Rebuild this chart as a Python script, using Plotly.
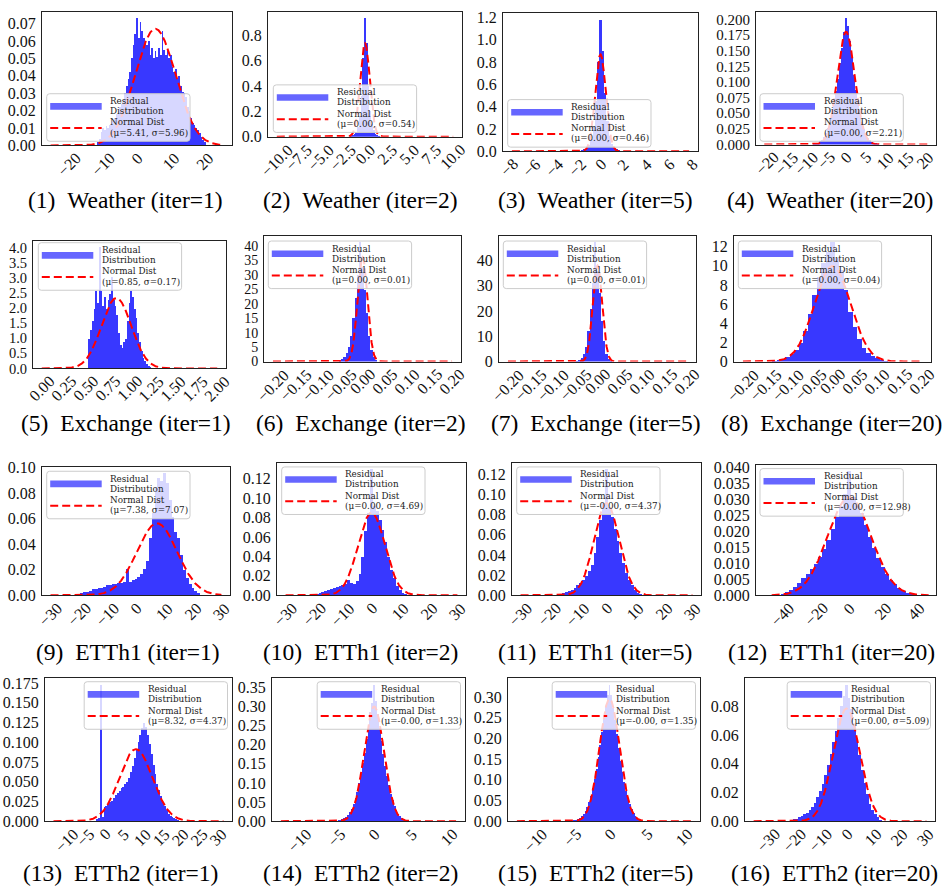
import numpy as np
import plotly.graph_objects as go

# ---------------- data ----------------
titles = ["(1)\u2002Weather (iter=1)", "(2)\u2002Weather (iter=2)", "(3)\u2002Weather (iter=5)", "(4)\u2002Weather (iter=20)",
          "(5)\u2002Exchange (iter=1)", "(6)\u2002Exchange (iter=2)", "(7)\u2002Exchange (iter=5)", "(8)\u2002Exchange (iter=20)",
          "(9)\u2002ETTh1 (iter=1)", "(10)\u2002ETTh1 (iter=2)", "(11)\u2002ETTh1 (iter=5)", "(12)\u2002ETTh1 (iter=20)",
          "(13)\u2002ETTh2 (iter=1)", "(14)\u2002ETTh2 (iter=2)", "(15)\u2002ETTh2 (iter=5)", "(16)\u2002ETTh2 (iter=20)"]

fit_mu = [5.41, 0.0, 0.0, 0.0, 0.85, 0.0, 0.0, 0.0, 7.38, 0.0, -0.001, -0.001, 8.32, -0.001, -0.001, 0.0]
fit_sigma = [5.96, 0.54, 0.46, 2.21, 0.17, 0.011, 0.0105, 0.04, 7.07, 4.69, 4.37, 12.98, 4.37, 1.33, 1.35, 5.09]

# histogram bins: left edge of first bin, bin width, densities
bin_left = [-11.75, -1.7, -1.9, -8.25, 0.53, -0.0525, -0.0475, -0.135,
            -20.5, -19.5, -17.5, -43.75, -2.25, -5.125, -5.125, -22.5]
bin_w = [0.5, 0.2, 0.2, 0.5, 0.02, 0.005, 0.005, 0.01, 1, 1, 1, 2.5, 0.5, 0.25, 0.25, 1]

h1 = [.002, .004, .008, .010, .009, .011, .010, .012, .013, .014,
      .016, .018, .020, .022, .024, .027, .030, .034, .038, .042,
      .050, .058, .064, .073, .062, .071, .066, .062, .060, .058,
      .060, .052, .056, .050, .054, .051, .056, .052, .066, .055,
      .052, .054, .050, .052, .045, .042, .044, .038, .040, .034,
      .031, .030, .028, .022, .020, .016, .013, .012, .010, .009,
      .007, .005, .003, .002]
h2 = [0.005, 0.01, 0.02, 0.04, 0.08, 0.16, 0.32, 0.62, 0.94, 0.74, 0.4, 0.2, 0.1, 0.05, 0.025, 0.012, 0.005]
h3 = [0.005, 0.01, 0.02, 0.035, 0.06, 0.11, 0.22, 0.45, 0.8, 1.18, 0.9, 0.52, 0.27, 0.14, 0.07, 0.035, 0.018, 0.009, 0.004]
h4 = [0.001, 0.002, 0.003, 0.005, 0.008, 0.012, 0.018, 0.026, 0.036, 0.05, 0.066, 0.085, 0.105, 0.13, 0.155, 0.18,
      0.202, 0.19, 0.165, 0.14, 0.112, 0.088, 0.068, 0.05, 0.036, 0.025, 0.017, 0.011, 0.007, 0.004, 0.003, 0.002, 0.001]
h5 = [1.0, 1.3, 1.6, 2.0, 2.6, 2.2, 4.05, 2.6, 2.1, 2.4, 2.0, 2.3, 2.5, 3.05, 2.3, 2.1, 1.8, 1.2, 0.8, 0.7,
      0.9, 1.0, 1.6, 2.2, 2.6, 2.4, 2.0, 1.7, 1.2, 0.9, 0.6, 0.35, 0.25, 0.15, 0.1, 0.05, 0.03]
h6 = [0.3, 0.8, 1.5, 3, 5, 9, 15, 22, 30, 41.5, 33, 25, 17, 9, 4, 1.5, 0.5]
h7 = [0.3, 0.8, 1.5, 3, 6, 12, 21, 31, 47.3, 36, 27, 16, 8, 3, 1, 0.3]
h8 = [0.05, 0.15, 0.3, 0.45, 0.8, 1.2, 2.0, 3.2, 5.0, 7.0, 8.8, 10.3, 11.5, 12.5, 10.8, 9.6, 7.5, 5.2, 3.6, 2.4,
      1.4, 0.9, 0.6, 0.35, 0.2, 0.1]
h9 = [.001, .002, .003, .003, .004, .005, .005, .006, .006, .007, .008, .008, .009, .009, .010, .010, .011,
      .021, .011, .012, .013, .015, .017, .021, .027, .045, .065, .085, .092, .090, .096, .088, .075, .062,
      .050, .045, .032, .020, .014, .009, .006, .004, .002]
h10 = [.002, .003, .004, .005, .006, .007, .008, .009, .010, .011, .012, .016, .013, .012, .015, .022,
       .040, .066, .085, .130, .092, .087, .078, .068, .055, .040, .026, .018, .010, .006, .003, .002]
h11 = [.001, .002, .003, .004, .005, .006, .008, .010, .012, .015, .019, .024, .030, .042, .058, .075,
       .092, .125, .088, .078, .066, .054, .042, .032, .022, .015, .010, .006, .003, .002, .001]
h12 = [.0003, .0006, .001, .0018, .0028, .004, .0055, .0068, .0082, .0098, .012, .0145, .0175, .021, .0245,
       .028, .032, .039, .031, .028, .026, .022, .0185, .015, .0118, .009, .0068, .005, .0036, .0024, .0015,
       .0009, .0005, .0002]
h13 = [0.003, 0.004, 0.173, 0.006, 0.018, 0.02, 0.022, 0.025, 0.026, 0.03, 0.033, 0.036, 0.038, 0.042, 0.044,
       0.047, 0.05, 0.055, 0.062, 0.07, 0.08, 0.09, 0.1, 0.11, 0.118, 0.125, 0.12, 0.11, 0.098, 0.085, 0.072,
       0.06, 0.048, 0.04, 0.032, 0.025, 0.019, 0.014, 0.01, 0.007, 0.005, 0.004, 0.003, 0.002, 0.001]
h14 = [0.002, 0.003, 0.004, 0.006, 0.008, 0.012, 0.017, 0.024, 0.033, 0.045, 0.06, 0.078, 0.1, 0.125, 0.152,
       0.18, 0.215, 0.25, 0.285, 0.31, 0.357, 0.315, 0.28, 0.245, 0.21, 0.175, 0.145, 0.118, 0.095, 0.072,
       0.055, 0.04, 0.029, 0.02, 0.014, 0.009, 0.006, 0.004, 0.002, 0.001]
h15 = [0.002, 0.003, 0.004, 0.006, 0.009, 0.013, 0.018, 0.025, 0.034, 0.046, 0.061, 0.08, 0.102, 0.127, 0.155,
       0.185, 0.215, 0.25, 0.28, 0.305, 0.33, 0.305, 0.275, 0.245, 0.21, 0.178, 0.147, 0.12, 0.096, 0.074,
       0.056, 0.041, 0.03, 0.021, 0.014, 0.009, 0.006, 0.004, 0.002, 0.001]
h16 = [.0005, .001, .0015, .002, .003, .004, .005, .006, .008, .010, .013, .017, .021, .026, .032, .039, .047,
       .055, .063, .072, .080, .087, .095, .086, .078, .068, .057, .046, .036, .027, .019, .012, .008, .005,
       .003, .001]
hists = [h1, h2, h3, h4, h5, h6, h7, h8, h9, h10, h11, h12, h13, h14, h15, h16]

# x tick labels
xt_w = [-0.2, -0.15, -0.1, -0.05, 0, 0.05, 0.1, 0.15, 0.2]
xticks = [[-20, -10, 0, 10, 20], [-10, -7.5, -5, -2.5, 0, 2.5, 5, 7.5, 10], [-8, -6, -4, -2, 0, 2, 4, 6, 8],
          [-20, -15, -10, -5, 0, 5, 10, 15, 20], [0, 0.25, 0.5, 0.75, 1.0, 1.25, 1.5, 1.75, 2.0],
          xt_w, xt_w, xt_w,
          [-30, -20, -10, 0, 10, 20, 30], [-30, -20, -10, 0, 10, 20, 30], [-30, -20, -10, 0, 10, 20, 30],
          [-40, -20, 0, 20, 40], [-10, -5, 0, 5, 10, 15, 20, 25, 30], [-10, -5, 0, 5, 10], [-10, -5, 0, 5, 10],
          [-30, -20, -10, 0, 10, 20, 30]]
xtick_dec = [0, 1, 0, 0, 2, 2, 2, 2, 0, 0, 0, 0, 0, 0, 0, 0]
ytick_step = [0.01, 0.2, 0.2, 0.025, 0.5, 5, 10, 2, 0.02, 0.02, 0.02, 0.005, 0.025, 0.05, 0.05, 0.02]
ytick_fmt = ['.2f', '.1f', '.1f', '.3f', '.1f', '.0f', '.0f', '.0f', '.2f', '.2f', '.2f', '.3f', '.3f', '.2f', '.2f', '.2f']

# x extent of axes and of the fitted curve
x_range = [[-28.05, 28.05], [-11, 11], [-8.53, 8.53], [-22.8, 22.8], [-0.1, 2.1], [-0.22, 0.22], [-0.22, 0.22],
           [-0.22, 0.22], [-33, 33], [-33, 33], [-33, 33], [-56, 52], [-15.75, 33.75], [-13.7, 12.2],
           [-13.7, 12.2], [-38.8, 33.8]]
curve_span = [[-25.5, 25.5], [-10, 10], [-7.75, 7.75], [-20.7, 20.7], [0, 2], [-0.2, 0.2], [-0.2, 0.2],
              [-0.2, 0.2], [-30, 30], [-30, 30], [-30, 30], [-46.6, 47.6], [-13.5, 31.5], [-12.5, 11],
              [-12.5, 11], [-35.5, 30.5]]

# ---------------- layout (pixels) ----------------
W, H = 942, 896
frames = [(42, 232, 5, 141), (268, 462, 5, 132), (503, 698, 6, 147), (756, 936, 5, 140),
          (33, 226, 238, 368), (264, 461, 233, 361), (499, 696, 233, 361), (734, 931, 233, 361),
          (42, 230, 468, 599), (277, 466, 464, 599), (512, 701, 464, 599), (756, 936, 466, 599),
          (45, 232, 683, 829), (272, 465, 683, 829), (508, 700, 683, 829), (745, 935, 683, 829)]
legend_box = [(46.7, 88.3), (273.3, 79.3), (507.7, 94.3), (760, 88.3),
              (38.3, 240), (268.3, 238.3), (503.3, 238.3), (738.3, 238.3),
              (46.7, 472.7), (281.7, 468.3), (516.7, 468.3), (760, 470),
              (84.2, 687), (317.2, 687), (552.2, 687), (787.2, 687)]
captions = [(125, 196), (360, 196), (595, 196), (830, 196),
            (126, 424), (361, 424), (596, 424), (831, 424),
            (128, 657), (360, 657), (595, 657), (831, 657),
            (120, 882), (360, 882), (595, 882), (834, 882)]
ytick_size = [16, 16, 16, 15, 14.5, 14, 16, 16, 16, 16, 16, 16, 16, 16, 16, 16]

BAR = 'rgba(0,0,255,0.78)'
PATCH = 'rgba(0,0,255,0.6)'
FRAME = '#222222'
TXT = '#111111'
SERIF = 'Liberation Serif'
LEG_FONT = 'DejaVu Serif'


def PX(x):
    return x / W


def PY(y):
    return 1 - y / H


def rrect(x0, y0, x1, y1, r):
    pts = [('M', x0 + r, y0), ('L', x1 - r, y0), ('Q', x1, y0, x1, y0 + r), ('L', x1, y1 - r),
           ('Q', x1, y1, x1 - r, y1), ('L', x0 + r, y1), ('Q', x0, y1, x0, y1 - r), ('L', x0, y0 + r),
           ('Q', x0, y0, x0 + r, y0)]
    s = ''
    for p in pts:
        cmd = p[0]
        coords = p[1:]
        parts = []
        for j in range(0, len(coords), 2):
            parts.append('%.5f,%.5f' % (PX(coords[j]), PY(coords[j + 1])))
        s += cmd + ' ' + ' '.join(parts) + ' '
    return s + 'Z'


def fmt_tick(v, d):
    s = f"{v:.{d}f}"
    return s.replace('-', '\u2212')


fig = go.Figure()
axes_layout = {}
shapes = []
annotations = []

for i in range(16):
    k = i + 1
    sfx = '' if k == 1 else str(k)
    xa, ya = 'x' + sfx, 'y' + sfx
    h = np.array(hists[i], dtype=float)
    w = bin_w[i]
    centers = bin_left[i] + w * (np.arange(len(h)) + 0.5)
    fig.add_trace(go.Bar(x=centers, y=h, width=w, marker=dict(color=BAR, line=dict(width=0)),
                         xaxis=xa, yaxis=ya, showlegend=False, hoverinfo='skip'))
    xs = np.linspace(curve_span[i][0], curve_span[i][1], 800)
    ys = np.exp(-0.5 * ((xs - fit_mu[i]) / fit_sigma[i]) ** 2) / (fit_sigma[i] * np.sqrt(2 * np.pi))
    fig.add_trace(go.Scatter(x=xs, y=ys, mode='lines', line=dict(color='red', width=2, dash='8px,4px'),
                             xaxis=xa, yaxis=ya, showlegend=False, hoverinfo='skip'))

    x0, x1, y0, y1 = frames[i]
    ymax = float(h.max()) * 1.05
    axes_layout['xaxis' + sfx] = dict(domain=[PX(x0), PX(x1)], range=x_range[i], anchor=ya,
                                      showticklabels=False, ticks='', showgrid=False, zeroline=False,
                                      showline=True, mirror=True, linecolor=FRAME, linewidth=1)
    axes_layout['yaxis' + sfx] = dict(domain=[PY(y1), PY(y0)], range=[0, ymax], anchor=xa,
                                      tickmode='linear', tick0=0, dtick=ytick_step[i], tickformat=ytick_fmt[i],
                                      ticks='', showgrid=False, zeroline=False, showline=True, mirror=True,
                                      linecolor=FRAME, linewidth=1, ticklabelstandoff=2,
                                      tickfont=dict(family=SERIF, size=ytick_size[i], color=TXT))

    # rotated x tick labels, centred on the tick like matplotlib
    for v in xticks[i]:
        annotations.append(dict(x=v, y=0, xref=xa, yref=ya + ' domain', text=fmt_tick(v, xtick_dec[i]),
                                textangle=-45, xanchor='center', yanchor='top', yshift=-3, showarrow=False,
                                borderpad=0, font=dict(family=SERIF, size=16, color=TXT)))

    # legend
    bx, by = legend_box[i]
    bw, bh = 143.3, 48.4
    shapes.append(dict(type='path', path=rrect(bx, by, bx + bw, by + bh, 3), xref='paper', yref='paper',
                       fillcolor='rgba(255,255,255,0.8)', line=dict(color='#cccccc', width=1), layer='above'))
    shapes.append(dict(type='rect', x0=PX(bx + 3.5), x1=PX(bx + 55), y0=PY(by + 16.2), y1=PY(by + 9.5),
                       xref='paper', yref='paper', fillcolor=PATCH, line=dict(width=0), layer='above'))
    shapes.append(dict(type='line', x0=PX(bx + 3.5), x1=PX(bx + 55), y0=PY(by + 35), y1=PY(by + 35),
                       xref='paper', yref='paper', line=dict(color='red', width=2, dash='8px,4px'),
                       layer='above'))
    lab = f"(\u03bc={fit_mu[i]:.2f}, \u03c3={fit_sigma[i]:.2f})"
    for text, dy in [('Residual', 7.6), ('Distribution', 17.8), ('Normal Dist', 29.3), (lab, 39.5)]:
        annotations.append(dict(x=PX(bx + 62.5), y=PY(by + dy), xref='paper', yref='paper', text=text,
                                showarrow=False, xanchor='left', yanchor='middle', borderpad=0,
                                font=dict(family=LEG_FONT, size=8.8, color='#222222')))

    # caption
    cx, cy = captions[i]
    annotations.append(dict(x=PX(cx), y=PY(cy), xref='paper', yref='paper', text=titles[i], showarrow=False,
                            xanchor='center', yanchor='middle', font=dict(family=SERIF, size=23.5, color='#000000')))

fig.update_layout(**axes_layout)
fig.update_layout(width=W, height=H, margin=dict(l=0, r=0, t=0, b=0), paper_bgcolor='white',
                  plot_bgcolor='white', shapes=shapes, annotations=annotations, showlegend=False,
                  bargap=0)
fig.write_html("out.html")
